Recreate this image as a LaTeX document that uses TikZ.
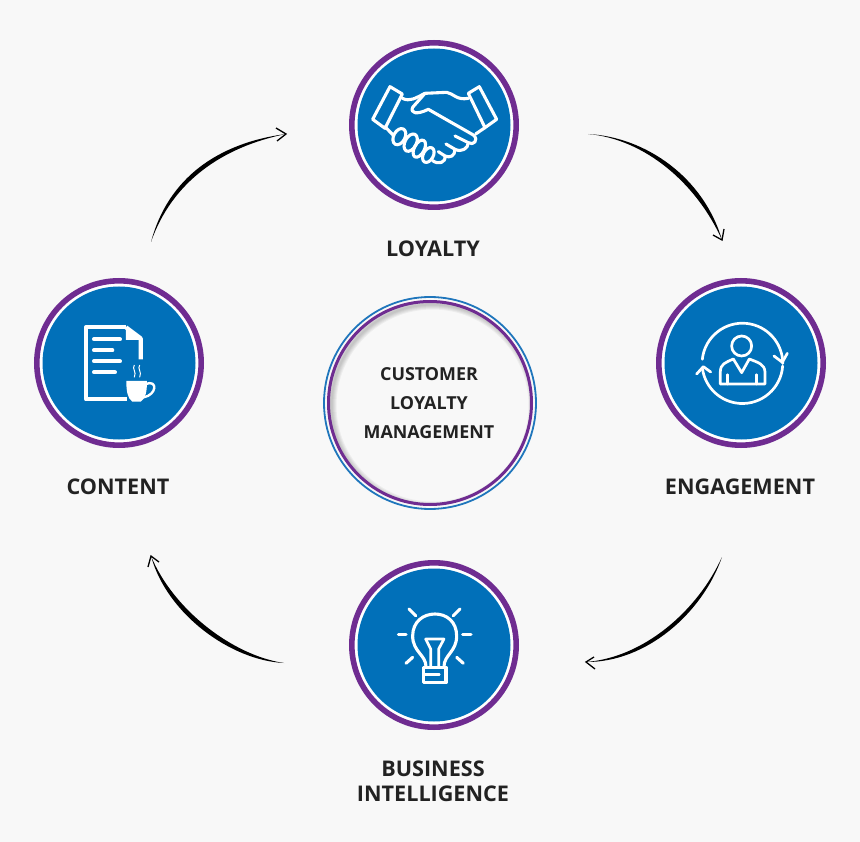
\documentclass[tikz,border=0pt]{standalone}
\usepackage{fontspec}
\setmainfont{Open Sans}
\usetikzlibrary{calc}
\definecolor{bgc}{HTML}{F8F8F8}
\definecolor{blu}{HTML}{0170B9}
\definecolor{pur}{HTML}{6F2C91}
\definecolor{txt}{HTML}{222222}
\definecolor{ringb}{HTML}{1F76BC}
\tikzset{
 hub/.style={circle,draw=pur,line width=5.6pt,fill=white,minimum size=164.4pt,inner sep=0pt,outer sep=0pt},
 disc/.style={circle,fill=blu,minimum size=153pt,inner sep=0pt,outer sep=0pt},
 label/.style={font=\fontsize{21.6}{25.5}\selectfont\bfseries,text=txt,align=center,inner sep=0pt},
 centretext/.style={font=\fontsize{17.9}{29}\selectfont\bfseries,text=txt,align=center,inner sep=0pt},
 icon/.style={draw=white,line width=3.1pt,line cap=round,line join=round},
 iconthin/.style={draw=white,line width=2.7pt,line cap=round,line join=round},
 taper/.style={fill=black,draw=none},
 chevron/.style={draw=black,line width=1.3pt,line join=miter},
}
\begin{document}
\begin{tikzpicture}[x=1pt,y=-1pt]
\useasboundingbox (0,0) rectangle (860,842);
\fill[bgc] (0,0) rectangle (860,842);

% centre
\node[circle,draw=ringb,line width=1.8pt,minimum size=212pt,inner sep=0pt] (outerring) at (430,403) {};
\begin{scope}
\clip (430,403) circle (101);
\foreach \w in {2,4,...,10}{
 \draw[black,opacity=.045,line width=\w pt] (432.5,405.5) circle (101);
}
\end{scope}
\node[circle,draw=pur,line width=3pt,minimum size=203pt,inner sep=0pt] (innerring) at (430,403) {};
\node[centretext] (customer) at (429,374) {CUSTOMER};
\node[centretext] (loyaltyc) at (429,403) {LOYALTY};
\node[centretext] (management) at (429,432.5) {MANAGEMENT};

% hubs
\foreach \n/\x/\y in {loyalty/434/125,engagement/741/363,bi/434/645,content/119/363}{
 \node[hub] (\n) at (\x,\y) {};
 \node[disc] (\n disc) at (\x,\y) {};
}

% labels
\node[label] (loyaltylabel) at (433,248.5) {LOYALTY};
\node[label] (engagementlabel) at (740,486.5) {ENGAGEMENT};
\node[label] (contentlabel) at (118,486.5) {CONTENT};
\node[label] (bilabel) at (433,781.5) {BUSINESS\\INTELLIGENCE};

% arrows
\coordinate (a0) at (588,134); \coordinate (a1) at (722,240);
\coordinate (b0) at (722,557); \coordinate (b1) at (586,662);
\coordinate (c0) at (284,663); \coordinate (c1) at (151,556);
\coordinate (d0) at (151,242); \coordinate (d1) at (286,134);

\fill[taper] (a0) .. controls (645.5,137) and (703.5,177) .. (a1) .. controls (696.5,183) and (644.5,139) .. (a0);
\draw[chevron] (713,235) -- (a1) -- (724,229);

\fill[taper] (b0) .. controls (702.5,613.2) and (646.2,662.5) .. (b1) .. controls (643.8,657.5) and (697.5,610.8) .. (b0);
\draw[chevron] (594,657) -- (b1) -- (595,669);

\fill[taper] (c0) .. controls (231.2,660.5) and (167,614.5) .. (c1) .. controls (173,609.5) and (232.8,655.5) .. (c0);
\draw[chevron] (148,567) -- (c1) -- (159,562);

\fill[taper] (d0) .. controls (168,178) and (218,143) .. (d1) .. controls (222,147) and (172,182) .. (d0);
\draw[chevron] (276,128) -- (d1) -- (277,141);

% handshake icon
\begin{scope}[shift={(340,30)},x=.3333pt,y=-.3333pt]
 \draw[icon] (150,170) -- (187,192) -- (135,295) -- (98,268) -- cycle;
 \draw[icon] (418,170) -- (385,190) -- (435,293) -- (470,268) -- cycle;
 \draw[icon] (187,205) .. controls (210,216) and (225,205) .. (255,190)
   -- (320,187) .. controls (340,190) and (350,212) .. (385,205);
 \draw[icon] (255,190) -- (218,232) .. controls (210,250) and (230,255) .. (265,238)
   -- (400,315) .. controls (418,330) and (400,348) .. (385,338) -- (345,318);
 \draw[icon] (435,293) -- (407,312);
 \draw[icon] (385,338) .. controls (385,355) and (365,368) .. (345,358) -- (318,342);
 \draw[icon] (345,358) .. controls (345,378) and (330,385) .. (315,378) -- (295,365);
 \draw[icon] (315,378) .. controls (318,398) and (295,405) .. (278,392);
 \draw[icon] (135,290) -- (160,316);
 \draw[icon,rotate around={-28:(178,320)}] (178,320) ellipse (17 and 26);
 \draw[icon,rotate around={-28:(212,338)}] (212,338) ellipse (17 and 28);
 \draw[icon,rotate around={-28:(238,356)}] (238,356) ellipse (15 and 28);
 \draw[icon,rotate around={-28:(265,375)}] (265,375) ellipse (15 and 24);
\end{scope}

% person icon
\begin{scope}[shift={(650,270)},x=.3333pt,y=-.3333pt]
 \draw[iconthin] (275,228) circle (30);
 \draw[iconthin] (157,268) arc[start angle=174,end angle=0,x radius=121,y radius=-121];
 \draw[iconthin] (398,288) arc[start angle=-4,end angle=-171,x radius=121,y radius=-121];
 \draw[iconthin] (372,258) -- (397,277) -- (412,250);
 \draw[iconthin] (140,312) -- (160,290) -- (182,306);
 \draw[iconthin] (211,342) -- (345,342) -- (345,305) .. controls (343,282) and (325,278) .. (298,267)
   -- (275,308) -- (250,267) .. controls (225,278) and (212,282) .. (211,305) -- cycle;
 \draw[iconthin] (233,342) -- (233,314);
 \draw[iconthin] (320,342) -- (320,314);
\end{scope}

% bulb icon
\begin{scope}[shift={(340,550)},x=.3333pt,y=-.3333pt]
 \draw[icon] (258,350) .. controls (258,315) and (218,305) .. (218,258)
   .. controls (218,215) and (250,192) .. (285,192)
   .. controls (320,192) and (350,215) .. (350,258)
   .. controls (350,305) and (312,315) .. (312,350);
 \draw[icon] (250,352) -- (318,352) -- (318,398) -- (250,398) -- cycle;
 \draw[iconthin] (252,374) -- (298,374);
 \draw[iconthin] (257,267) -- (312,267) -- (296,297) -- (296,350);
 \draw[iconthin] (257,267) -- (272,297) -- (272,350);
 \draw[icon] (207,177) -- (227,197);
 \draw[icon] (360,177) -- (340,197);
 \draw[icon] (175,253) -- (198,253);
 \draw[icon] (368,253) -- (393,253);
 \draw[icon] (198,340) -- (218,322);
 \draw[icon] (370,340) -- (350,322);
\end{scope}

% document icon
\begin{scope}[shift={(25,270)},x=.3333pt,y=-.3333pt]
 \draw[white,line width=4.2pt,line join=round] (303,172) -- (183,172) -- (183,388) -- (305,388);
 \draw[white,line width=4.2pt,line join=round] (303,172) -- (347,205) -- (347,268);
 \fill[white] (303,172) -- (347,210) -- (303,210) -- cycle;
 \foreach \y/\e in {208/285,241/262,274/285,307/270}{
  \draw[white,line width=4pt,line cap=round] (207,\y) -- (\e,\y);
 }
 \fill[white] (304,333) -- (366,333) .. controls (366,365) and (362,385) .. (347,395)
   -- (322,395) .. controls (308,385) and (304,365) .. (304,333) -- cycle;
 \draw[white,line width=2.4pt] (362,342) .. controls (400,328) and (395,375) .. (356,382);
 \draw[white,line width=1pt] (328,285) .. controls (320,297) and (336,305) .. (328,322);
 \draw[white,line width=1pt] (344,285) .. controls (336,297) and (352,305) .. (344,322);
\end{scope}
\end{tikzpicture}
\end{document}
